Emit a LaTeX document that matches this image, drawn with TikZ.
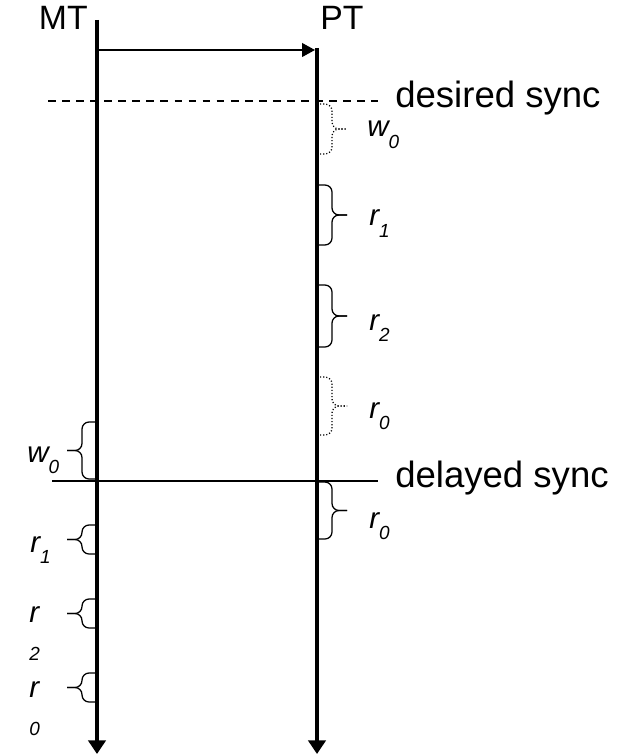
\documentclass[tikz,border=0pt]{standalone}
\usepackage{fontspec}
\setmainfont{Liberation Sans}
\usetikzlibrary{positioning,arrows.meta}
\newcommand\smfont{\fontsize{13.5}{15}\selectfont\itshape}
\newcommand\lblsub[1]{\raisebox{-0.38em}{\smfont #1}}

\begin{document}
\begin{tikzpicture}[x=0.025cm,y=-0.025cm,
  every node/.style={inner sep=0pt},
  big/.style={font=\fontsize{24}{28}\selectfont},
  sync/.style={font=\fontsize{26}{30}\selectfont},
  lbl/.style={font=\fontsize{21}{25}\selectfont\itshape},
  timeline/.style={line width=2.8pt,-{Triangle[width=0.43cm,length=0.34cm]}},
  msg/.style={line width=1.2pt,-{Triangle[width=0.34cm,length=0.32cm]}},
  dots/.style={dash pattern=on 0.8pt off 1.4pt},
  pics/tbrace/.style n args={2}{code={
    \draw[line width=0.9pt,rounded corners=5pt,pic actions] (0,-#1) -- (15*#2,-#1) -- (15*#2,0) -- (30*#2,0);
    \draw[line width=0.9pt,rounded corners=5pt,pic actions] (0,#1) -- (15*#2,#1) -- (15*#2,0) -- (30*#2,0);
  }}
]
  \useasboundingbox (0,0) rectangle (618,754);

  % the two time lines
  \coordinate (mttop) at (97,20);  \coordinate (mtend) at (97,754);
  \coordinate (pttop) at (317,48); \coordinate (ptend) at (317,754);
  \draw[timeline] (mttop) -- (mtend);
  \draw[timeline] (pttop) -- (ptend);
  \node[big,anchor=base east] (mt) at (88,30) {MT};
  \node[big,anchor=base west] (pt) at (320,30) {PT};

  \coordinate (send) at (97,50); \coordinate (recv) at (315,50);
  \draw[msg] (send) -- (recv);

  % sync lines
  \coordinate (desl) at (48,101);  \coordinate (desr) at (378,101);
  \coordinate (dell) at (52,481);  \coordinate (delr) at (378,481);
  \draw[line width=0.9pt,dash pattern=on 5.5pt off 4.5pt] (desl) -- (desr);
  \draw[line width=1pt] (dell) -- (delr);
  \node[sync,anchor=base west] (desired) at (395,108) {desired sync};
  \node[sync,anchor=base west] (delayed) at (395,487) {delayed sync};

  % braces on PT and MT
  \foreach \m/\h/\st in {129/25/dots, 215/30/solid, 316/31/solid, 406/29/dots, 510.5/28.5/solid}
    \pic[\st] at (317,\m) {tbrace={\h}{1}};
  \foreach \m/\h in {450.5/28.5, 539.5/14.5, 613.5/14.5, 687.5/14.5}
    \pic at (97,\m) {tbrace={\h}{-1}};

  \node[lbl,anchor=base west] (pw0) at (367,137) {w\lblsub{0}};
  \node[lbl,anchor=base west] (pr1) at (369,226) {r\lblsub{1}};
  \node[lbl,anchor=base west] (pr2) at (369,330) {r\lblsub{2}};
  \node[lbl,anchor=base west] (pr0) at (369,418) {r\lblsub{0}};
  \node[lbl,anchor=base west] (pr0b) at (369,528) {r\lblsub{0}};

  \node[lbl,anchor=base west] (mw0) at (27,462) {w\lblsub{0}};
  \node[lbl,anchor=base west] (mr1) at (30,552) {r\lblsub{1}};
  \node[lbl,anchor=base west] (mr2) at (29,660) {\shortstack[l]{r\\[14.6pt]{\smfont 2}}};
  \node[lbl,anchor=base west] (mr0) at (29,735) {\shortstack[l]{r\\[14.6pt]{\smfont 0}}};
\end{tikzpicture}
\end{document}
